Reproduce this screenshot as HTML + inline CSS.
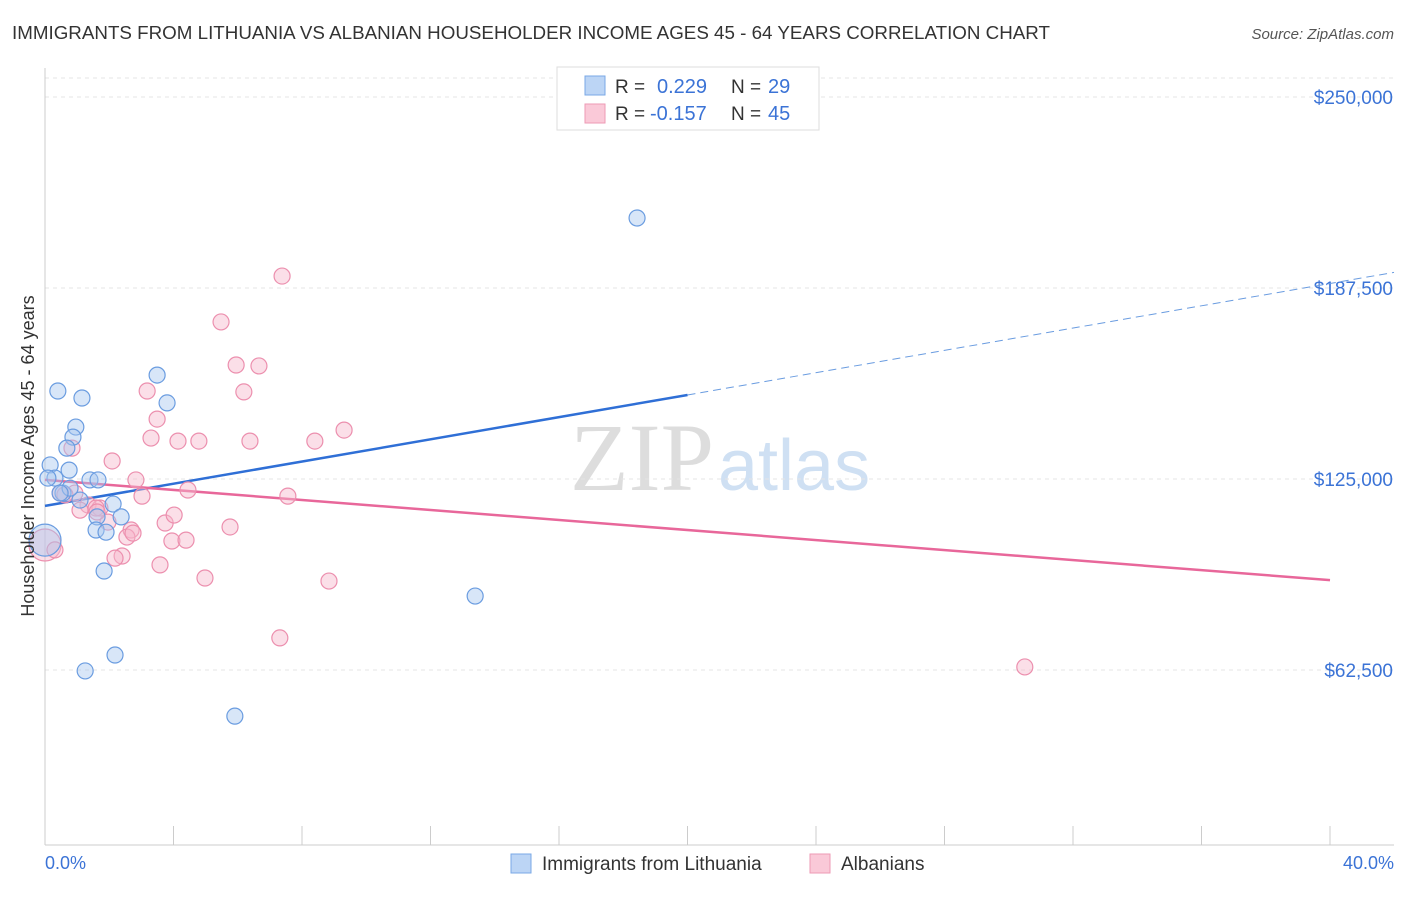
<!DOCTYPE html>
<html><head><meta charset="utf-8"><style>
body{margin:0;background:#fff;font-family:"Liberation Sans",sans-serif;}
</style></head><body>
<svg id="c" width="1406" height="892" xmlns="http://www.w3.org/2000/svg">
<text x="12" y="39" font-size="18" fill="#333" textLength="1038" lengthAdjust="spacingAndGlyphs">IMMIGRANTS FROM LITHUANIA VS ALBANIAN HOUSEHOLDER INCOME AGES 45 - 64 YEARS CORRELATION CHART</text>
<text x="1394" y="39" font-size="15" fill="#555" font-style="italic" text-anchor="end">Source: ZipAtlas.com</text>
<text x="714" y="490" font-size="96" fill="#ddd" text-anchor="end" font-family="Liberation Serif">ZIP</text>
<text x="718" y="490" font-size="72" fill="#cfe0f3">atlas</text>
<g id="grid"></g><g id="axes"></g><g id="lines"></g><g id="pts"></g>
<text x="34" y="456" font-size="18" fill="#333" text-anchor="middle" transform="rotate(-90 34 456)">Householder Income Ages 45 - 64 years</text>
<text x="45" y="869" font-size="18" fill="#3b73d6">0.0%</text>
<text x="1394" y="869" font-size="18" fill="#3b73d6" text-anchor="end">40.0%</text>
<g>
<rect x="557" y="67" width="262" height="63" fill="#fff" stroke="#ddd"/>
<rect x="585" y="76" width="20" height="19" fill="#bcd5f5" stroke="#7aa8e6"/>
<rect x="585" y="104" width="20" height="19" fill="#fac9d8" stroke="#ee9ab5"/>
<text x="615" y="93" font-size="19" fill="#333">R =</text>
<text x="657" y="93" font-size="20" fill="#3b73d6">0.229</text>
<text x="731" y="93" font-size="19" fill="#333">N =</text>
<text x="768" y="93" font-size="20" fill="#3b73d6">29</text>
<text x="615" y="120" font-size="19" fill="#333">R =</text>
<text x="650" y="120" font-size="20" fill="#3b73d6">-0.157</text>
<text x="731" y="120" font-size="19" fill="#333">N =</text>
<text x="768" y="120" font-size="20" fill="#3b73d6">45</text>
</g>
<g>
<rect x="511" y="854" width="20" height="19" fill="#bcd5f5" stroke="#7aa8e6"/>
<text x="542" y="870" font-size="19" fill="#333">Immigrants from Lithuania</text>
<rect x="810" y="854" width="20" height="19" fill="#fac9d8" stroke="#ee9ab5"/>
<text x="841" y="870" font-size="19" fill="#333">Albanians</text>
</g>
</svg>
<script>
const yTicks=[62500,125000,187500,250000];
const yTickLabels=["$62,500","$125,000","$187,500","$250,000"];
const xTicks=[0,4,8,12,16,20,24,28,32,36,40];
const blueX=[0.40,1.15,0.96,0.87,0.68,0.75,0.16,0.31,0.56,1.09,1.40,1.65,2.12,1.62,1.59,1.90,2.37,1.84,1.25,2.18,3.49,3.80,5.91,13.39,18.43,0.0,0.09,0.78,0.47];
const blueY=[153800,151500,142000,138700,135100,127900,129600,125300,120400,118100,124700,124700,116800,112600,108300,107600,112600,94900,62200,67400,159000,149900,47400,86700,210400,105000,125300,122000,120400];
const pinkX=[7.38,5.48,5.95,6.66,6.19,3.18,3.49,3.30,4.14,4.79,6.38,8.40,9.31,0.84,2.09,2.83,3.02,4.45,7.56,0.47,0.93,1.34,1.71,1.09,1.96,2.68,3.74,4.02,5.76,2.55,3.95,4.39,2.40,2.18,3.58,4.98,8.84,7.31,30.50,0,0.31,0.62,1.59,1.62,2.74];
const pinkY=[191400,176400,162300,162000,153500,153800,144600,138400,137400,137400,137400,137400,141000,135100,130900,124700,119400,121400,119400,120400,120400,116500,115500,114800,110900,108300,110600,113200,109300,106000,104700,105000,99800,99100,96900,92600,91600,73000,63500,103400,101800,119800,115500,114200,107300];
const blueLine=[116200,1815];
const pinkLine=[124700,-820];
const NS="http://www.w3.org/2000/svg";
const X=v=>45+v*(1285/40), Y=v=>861-v*(191/62500);
function mk(t,a,p){const e=document.createElementNS(NS,t);for(const k in a)e.setAttribute(k,a[k]);document.getElementById(p).appendChild(e);return e;}
yTicks.forEach((t,i)=>{
 const l=mk('line',{x1:45,x2:1394,y1:Y(t),y2:Y(t),stroke:'#e4e4e4','stroke-dasharray':'4,4'},'grid');
 
 
 const tx=mk('text',{x:1393,y:Y(t)+7,'font-size':19,fill:'#3b73d6','text-anchor':'end'},'grid');
 tx.textContent=yTickLabels[i];
 
 
});
const tl=mk('line',{x1:45,x2:1394,y1:78,y2:78,stroke:'#e4e4e4','stroke-dasharray':'4,4'},'grid');


const ax=mk('line',{x1:45,x2:1394,y1:845,y2:845,stroke:'#ccc'},'axes');


const ay=mk('line',{x1:45,x2:45,y1:68,y2:845,stroke:'#ccc'},'axes');


xTicks.forEach(t=>{const l=mk('line',{x1:X(t),x2:X(t),y1:826,y2:845,stroke:'#ccc'},'axes');
 
 });
function pts(xs,ys,fill,stroke,name,big){xs.forEach((x,i)=>{
 const r=(x===0)?big:8;
 const c=mk('circle',{cx:X(x),cy:Y(ys[i]),r:r,fill:fill,'fill-opacity':0.45,stroke:stroke,'stroke-width':1.2},'pts');
 
 });}
pts(pinkX,pinkY,'#f7b9cc','#ec8fae','albanians-point',16);
pts(blueX,blueY,'#a9c8f0','#6a9ce0','lithuania-point',16);
const b1=mk('line',{x1:X(0),y1:Y(blueLine[0]),x2:X(20),y2:Y(blueLine[0]+20*blueLine[1]),stroke:'#2f6fd6','stroke-width':2.5},'lines');


const b2=mk('line',{x1:X(20),y1:Y(blueLine[0]+20*blueLine[1]),x2:1394,y2:Y(blueLine[0]+42.1*blueLine[1]),stroke:'#6a9ce0','stroke-width':1,'stroke-dasharray':'8,5'},'lines');


const p1=mk('line',{x1:X(0),y1:Y(pinkLine[0]),x2:X(40),y2:Y(pinkLine[0]+40*pinkLine[1]),stroke:'#e8679a','stroke-width':2.5},'lines');


</script>
</body></html>
